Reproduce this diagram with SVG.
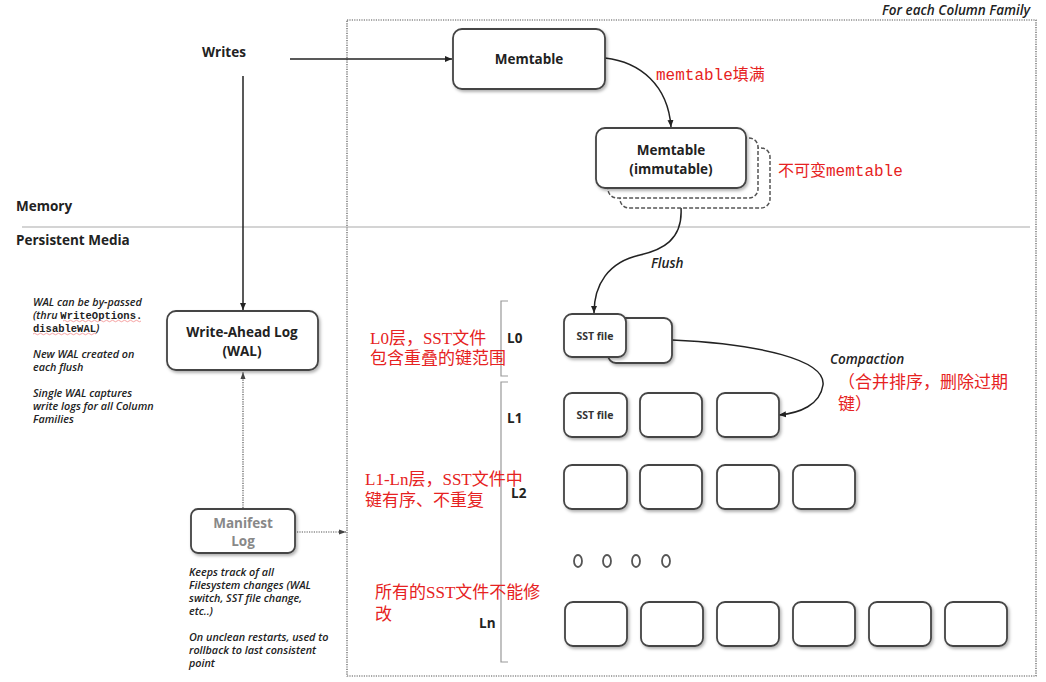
<svg xmlns="http://www.w3.org/2000/svg" width="1046" height="682" viewBox="0 0 1046 682">
<style>
.lbl{font-family:"Open Sans","Liberation Sans",sans-serif;font-weight:bold;font-size:13.5px;fill:#222}
.sm{font-family:"Open Sans","Liberation Sans",sans-serif;font-weight:bold;font-size:10.5px;fill:#333}
.it{font-family:"Open Sans","Liberation Sans",sans-serif;font-style:italic;font-weight:600;font-size:13.5px;fill:#222}
.note{font-family:"Open Sans","Liberation Sans",sans-serif;font-style:italic;font-weight:600;font-size:10.8px;fill:#222}
.mono{font-family:"Liberation Mono",monospace;font-style:normal;font-weight:bold;font-size:10.5px;fill:#222}
.red{font-family:"Liberation Serif","Noto Sans CJK SC",serif;font-size:17px;fill:#e62222}
.redm{font-family:"Liberation Mono","Noto Sans CJK SC",monospace;font-size:16px;fill:#e62222}
.box{fill:#fff;stroke:#444;stroke-width:1.8;filter:url(#sh)}
.dbox{fill:#fff;stroke:#555;stroke-width:1.5;stroke-dasharray:4 2}
.conn{fill:none;stroke:#222;stroke-width:1.5}
.dot{fill:none;stroke:#555;stroke-width:1.2;stroke-dasharray:1.2 1.2}
.brk{fill:none;stroke:#999;stroke-width:1.2}
</style>
<defs>
<filter id="sh" x="-20%" y="-20%" width="140%" height="150%">
<feDropShadow dx="1.5" dy="2" stdDeviation="1.5" flood-color="#000" flood-opacity="0.3"/>
</filter>
<marker id="ar" markerWidth="8" markerHeight="8" refX="7" refY="4" orient="auto" markerUnits="userSpaceOnUse">
<path d="M0,1 L7,4 L0,7 z" fill="#222"/>
</marker>
<marker id="ard" markerWidth="8" markerHeight="8" refX="7" refY="4" orient="auto" markerUnits="userSpaceOnUse">
<path d="M0,1.5 L7,4 L0,6.5 z" fill="#444"/>
</marker>
</defs>
<rect width="1046" height="682" fill="#fff"/>

<!-- frame and separators -->
<rect x="347" y="20" width="689" height="656" class="dot"/>
<text x="1030" y="15" class="it" text-anchor="end">For each Column Family</text>
<line x1="22" y1="227" x2="1030" y2="227" stroke="#aaa" stroke-width="1.2"/>
<text x="16" y="211" class="lbl">Memory</text>
<text x="16" y="245" class="lbl">Persistent Media</text>

<g id="connectors">
<line x1="290" y1="59" x2="452" y2="59" class="conn" marker-end="url(#ar)"/>
<line x1="243" y1="76" x2="243" y2="310" class="conn" marker-end="url(#ar)"/>
<path d="M605,58 C640,62 668,85 671,127" class="conn" marker-end="url(#ar)"/>
<path d="M681,208 C683,240 662,250 640,255 C608,262 594,285 594,313" class="conn" marker-end="url(#ar)"/>
<path d="M672,340 C760,344 826,360 823,385 C820,405 800,413 779,415" class="conn" marker-end="url(#ar)"/>
<line x1="243" y1="508" x2="243" y2="372" class="dot" marker-end="url(#ard)"/>
<line x1="297" y1="532" x2="346" y2="532" class="dot" marker-end="url(#ard)"/>
</g>

<g id="writes"><text x="224" y="57" class="lbl" text-anchor="middle">Writes</text></g>

<g id="memtable">
<rect x="453" y="29" width="152" height="60" rx="9" class="box"/>
<text x="529" y="64" class="lbl" text-anchor="middle">Memtable</text>
</g>
<text x="656" y="80" class="redm">memtable填满</text>

<g id="immutable">
<rect x="620" y="148" width="150" height="60" rx="9" class="dbox"/>
<rect x="608" y="138" width="150" height="60" rx="9" class="dbox"/>
<rect x="596" y="128" width="150" height="60" rx="9" class="box"/>
<text x="671" y="155" class="lbl" text-anchor="middle">Memtable</text>
<text x="671" y="174" class="lbl" text-anchor="middle">(immutable)</text>
</g>
<text x="778" y="176" class="redm">不可变memtable</text>
<text x="651" y="268" class="it">Flush</text>

<g id="wal">
<rect x="167" y="311" width="151" height="59" rx="9" class="box"/>
<text x="242" y="337" class="lbl" text-anchor="middle">Write-Ahead Log</text>
<text x="242" y="356" class="lbl" text-anchor="middle">(WAL)</text>
</g>

<g id="wal-notes">
<text x="33" y="306" class="note">WAL can be by-passed</text>
<text x="33" y="319" class="note">(thru <tspan class="mono">WriteOptions.</tspan></text>
<text x="33" y="332" class="note"><tspan class="mono">disableWAL</tspan>)</text>
<path d="M63,321 q1.5,-1.5 3,0 t3,0 t3,0 t3,0 t3,0 t3,0 t3,0 t3,0 t3,0 t3,0 t3,0 t3,0 t3,0 t3,0 t3,0 t3,0 t3,0 t3,0 t3,0 t3,0 t3,0 t3,0 t3,0 t3,0 t3,0 t3,0" fill="none" stroke="#e66" stroke-width="0.6"/>
<path d="M33,334 q1.5,-1.5 3,0 t3,0 t3,0 t3,0 t3,0 t3,0 t3,0 t3,0 t3,0 t3,0 t3,0 t3,0 t3,0 t3,0 t3,0 t3,0 t3,0 t3,0 t3,0 t3,0 t3,0" fill="none" stroke="#e66" stroke-width="0.6"/>
<text x="33" y="358" class="note">New WAL created on</text>
<text x="33" y="371" class="note">each flush</text>
<text x="33" y="397" class="note">Single WAL captures</text>
<text x="33" y="410" class="note">write logs for all Column</text>
<text x="33" y="423" class="note">Families</text>
</g>

<g id="manifest">
<rect x="191" y="509" width="104" height="44" rx="7" class="box" stroke="#666"/>
<text x="243" y="528" class="lbl" text-anchor="middle" style="fill:#888">Manifest</text>
<text x="243" y="546" class="lbl" text-anchor="middle" style="fill:#888">Log</text>
</g>
<g id="manifest-notes">
<text x="189" y="576" class="note">Keeps track of all</text>
<text x="189" y="589" class="note">Filesystem changes (WAL</text>
<text x="189" y="602" class="note">switch, SST file change,</text>
<text x="189" y="615" class="note">etc..)</text>
<text x="189" y="641" class="note">On unclean restarts, used to</text>
<text x="189" y="654" class="note">rollback to last consistent</text>
<text x="189" y="667" class="note">point</text>
</g>

<!-- levels -->
<path d="M508,301 L501,301 L501,376 L508,376" class="brk"/>
<path d="M508,382 L501,382 L501,662 L508,662" class="brk"/>
<text x="507" y="343" class="lbl">L0</text>
<text x="507" y="423" class="lbl">L1</text>
<text x="511" y="498" class="lbl">L2</text>
<text x="479" y="628" class="lbl">Ln</text>

<g id="l0">
<rect x="608" y="318" width="64" height="45" rx="8" class="box"/>
<rect x="564" y="314" width="62" height="43" rx="8" class="box"/>
<text x="595" y="340" class="sm" text-anchor="middle">SST file</text>
</g>
<text x="370" y="344" class="red">L0层，SST文件</text>
<text x="370" y="364" class="red">包含重叠的键范围</text>

<text x="830" y="364" class="it">Compaction</text>
<text x="838" y="388" class="red">（合并排序，删除过期</text>
<text x="838" y="410" class="red">键）</text>

<g id="l1">
<rect x="564" y="393" width="63" height="44" rx="8" class="box"/>
<text x="595" y="419" class="sm" text-anchor="middle">SST file</text>
<rect x="640" y="393" width="62" height="44" rx="8" class="box"/>
<rect x="717" y="393" width="62" height="44" rx="8" class="box"/>
</g>

<g id="l2">
<rect x="564" y="465" width="63" height="44" rx="8" class="box"/>
<rect x="640" y="465" width="62" height="44" rx="8" class="box"/>
<rect x="717" y="465" width="62" height="44" rx="8" class="box"/>
<rect x="793" y="465" width="62" height="44" rx="8" class="box"/>
</g>
<text x="365" y="485" class="red">L1-Ln层，SST文件中</text>
<text x="365" y="506" class="red">键有序、不重复</text>

<g id="dots" fill="#fff" stroke="#555" stroke-width="1.8">
<ellipse cx="578" cy="561" rx="4" ry="6"/>
<ellipse cx="607" cy="561" rx="4" ry="6"/>
<ellipse cx="636" cy="561" rx="4" ry="6"/>
<ellipse cx="666" cy="561" rx="4" ry="6"/>
</g>

<g id="ln">
<rect x="565" y="602" width="62" height="44" rx="8" class="box"/>
<rect x="641" y="602" width="62" height="44" rx="8" class="box"/>
<rect x="717" y="602" width="62" height="44" rx="8" class="box"/>
<rect x="793" y="602" width="62" height="44" rx="8" class="box"/>
<rect x="869" y="602" width="62" height="44" rx="8" class="box"/>
<rect x="945" y="602" width="62" height="44" rx="8" class="box"/>
</g>
<text x="375" y="598" class="red">所有的SST文件不能修</text>
<text x="375" y="620" class="red">改</text>
</svg>
